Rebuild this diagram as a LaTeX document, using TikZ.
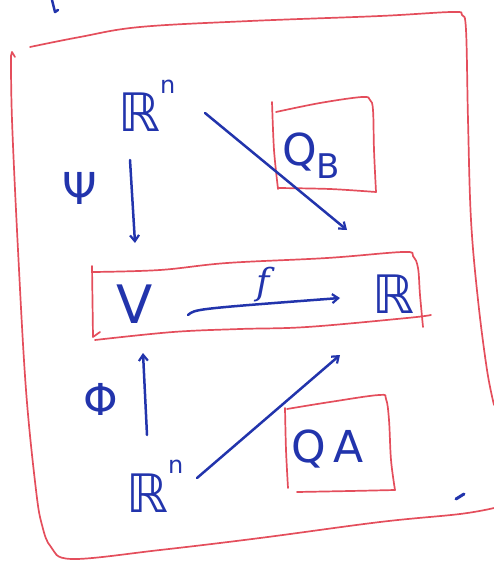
\documentclass[tikz,border=0pt]{standalone}
\usepackage{fontspec}
\newfontfamily\hand{DejaVu Sans}
\newfontfamily\handit{DejaVu Serif Italic}
\usetikzlibrary{arrows.meta,calc}
\definecolor{ink}{RGB}{34,52,172}
\definecolor{frame}{RGB}{228,78,92}
\newcommand{\supn}{\raisebox{0.72em}{\fontsize{24}{28}\selectfont n}}
\begin{document}
\begin{tikzpicture}[x=1pt,y=-1pt,
  frameline/.style={draw=frame,line width=1.7pt,line cap=round,line join=round},
  inkline/.style={draw=ink,line width=2.5pt,line cap=round,line join=round},
  arr/.style={inkline,-{Straight Barb[length=6pt,width=9pt,line width=2.2pt]}},
  letter/.style={text=ink,inner sep=0pt,font=\hand\fontsize{53}{58}\selectfont},
  label/.style={text=ink,inner sep=0pt,font=\hand\fontsize{44}{50}\selectfont},
  small/.style={text=ink,inner sep=0pt,font=\handit\fontsize{36}{42}\selectfont}]
\useasboundingbox (0,0) rectangle (493,564);

% outer frame
\draw[frameline] plot[smooth,tension=0.6] coordinates {(30,47) (80,37) (140,27) (250,21) (380,16) (452,12) (462,15) (466,30) (468,120) (471,220) (478,300) (487,370) (494,405)};
\draw[frameline] (15,57) -- (12,52) -- (11,56);
\draw[frameline] plot[smooth,tension=0.6] coordinates {(11,56) (12,120) (18,250) (26,390) (36,490) (42,525) (51,547) (72,559) (160,550) (260,538) (380,522) (460,514) (494,508)};

% box holding V and R
\draw[frameline] (92,266) -- (93,337) -- (100,332);
\draw[frameline] plot[smooth,tension=0.6] coordinates {(93,272) (160,270) (227,263) (327,258) (403,252) (413,256) (418,268) (420,295) (423,327)};
\draw[frameline] plot[smooth,tension=0.6] coordinates {(95,340) (173,332) (240,329) (307,327) (407,318) (431,315)};

% box Q_B
\draw[frameline] plot[smooth,tension=0.5] coordinates {(272,102) (274,150) (278,189)};
\draw[frameline] plot[smooth,tension=0.5] coordinates {(278,188) (330,189) (376,192)};
\draw[frameline] plot[smooth,tension=0.6] coordinates {(276,112) (320,103) (362,97) (370,100) (373,110) (374,150) (376,192)};

% box QA
\draw[frameline] plot[smooth,tension=0.5] coordinates {(285,408) (286,450) (288,488)};
\draw[frameline] plot[smooth,tension=0.5] coordinates {(297,492) (350,491) (395,490)};
\draw[frameline] plot[smooth,tension=0.6] coordinates {(287,409) (330,402) (379,395) (386,399) (389,420) (391,460) (395,490)};

% objects
\node[letter,anchor=base west] (rnt) at (118,132) {ℝ\supn};
\node[letter,anchor=base] (v) at (135,323) {V};
\node[letter,anchor=base] (r) at (393,313) {ℝ};
\node[letter,anchor=base west] (rnb) at (126,512) {ℝ\supn};
\node[label,anchor=base west] (qb) at (282,165) {Q\raisebox{-0.3em}{\fontsize{34}{38}\selectfont B}};
\node[label,anchor=base] (qa) at (328,462) {Q\,A};

% maps
\node[label] (psi) at (80,188) {Ψ};
\node[label] (phi) at (101,399) {Φ};
\node[small] (f) at (263,285) {f};

\draw[arr] ($(rnt.base west)+(12,28)$) -- ($(v.base)+(0,-80)$);
\draw[arr] ($(rnt.base west)+(87,-19)$) -- ($(r.base)+(-46,-83)$);
\draw[arr] ($(v.base)+(53,-8)$) .. controls ($(v.base)+(60,-14)$) .. ($(r.base)+(-53,-15)$);
\draw[arr] ($(rnb.base west)+(21,-77)$) -- ($(v.base)+(8,30)$);
\draw[arr] ($(rnb.base west)+(71,-34)$) -- ($(r.base)+(-53,42)$);

% loose pen marks
\draw[inkline] (52,0) -- (55,12) -- (58,10);
\draw[inkline,line width=3pt] (456,499) -- (464,494);
\end{tikzpicture}
\end{document}
